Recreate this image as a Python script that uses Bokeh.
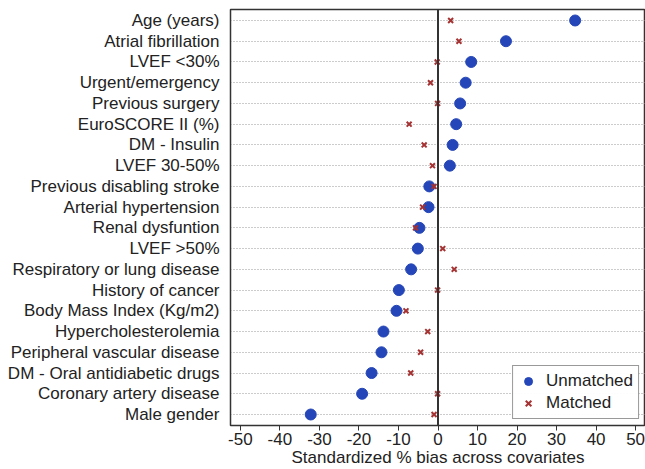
from bokeh.plotting import figure
from bokeh.models import Range1d, FixedTicker, Span, Legend, LegendItem
from bokeh.embed import file_html
from bokeh.resources import INLINE

covariates = [
    "Age (years)", "Atrial fibrillation", "LVEF <30%", "Urgent/emergency",
    "Previous surgery", "EuroSCORE II (%)", "DM - Insulin", "LVEF 30-50%",
    "Previous disabling stroke", "Arterial hypertension", "Renal dysfuntion",
    "LVEF >50%", "Respiratory or lung disease", "History of cancer",
    "Body Mass Index (Kg/m2)", "Hypercholesterolemia", "Peripheral vascular disease",
    "DM - Oral antidiabetic drugs", "Coronary artery disease", "Male gender",
]
unmatched = [34.7, 17.2, 8.4, 7.0, 5.6, 4.6, 3.7, 3.0, -2.2, -2.4, -4.7, -5.1,
             -6.8, -9.9, -10.5, -13.8, -14.3, -16.8, -19.2, -32.2]
matched = [3.2, 5.3, -0.2, -1.9, -0.1, -7.3, -3.5, -1.4, -1.0, -3.9, -5.7, 1.2,
           4.1, -0.1, -8.1, -2.6, -4.4, -6.9, -0.1, -1.0]
x_ticks = [-50, -40, -30, -20, -10, 0, 10, 20, 30, 40, 50]

n = len(covariates)
ypos = [n - 1 - i for i in range(n)]

FONT = "Liberation Sans"

p = figure(width=645, height=469, output_backend="svg", toolbar_location=None,
           x_range=Range1d(-52.5, 52.5), y_range=Range1d(-0.53, n - 1 + 0.53),
           min_border_left=230, min_border_right=0, min_border_top=9, min_border_bottom=0)

p.outline_line_color = "#333333"
p.outline_line_width = 1.5

# x axis
p.xaxis.ticker = FixedTicker(ticks=x_ticks)
p.xaxis.major_label_overrides = {t: str(t) for t in x_ticks}
p.xaxis.axis_label = "Standardized % bias across covariates"
p.xaxis.axis_label_text_font = FONT
p.xaxis.axis_label_text_font_style = "normal"
p.xaxis.axis_label_text_font_size = "17px"
p.xaxis.axis_label_text_color = "#222222"
p.xaxis.axis_label_standoff = 0
p.xaxis.major_label_text_font = FONT
p.xaxis.major_label_text_font_size = "17px"
p.xaxis.major_label_text_color = "#222222"
p.xaxis.axis_line_color = "#333333"
p.xaxis.major_tick_line_color = "#333333"
p.xaxis.major_tick_out = 5
p.xaxis.major_tick_in = 0
p.xaxis.minor_tick_line_color = None
p.xaxis.major_label_standoff = 2

# y axis
p.yaxis.ticker = FixedTicker(ticks=ypos)
p.yaxis.major_label_overrides = {y: c for y, c in zip(ypos, covariates)}
p.yaxis.major_label_text_font = FONT
p.yaxis.major_label_text_font_size = "17px"
p.yaxis.major_label_text_color = "#222222"
p.yaxis.axis_line_color = "#333333"
p.yaxis.major_tick_line_color = None
p.yaxis.minor_tick_line_color = None
p.yaxis.major_label_standoff = 5

# grids
p.xgrid.grid_line_color = None
p.ygrid.ticker = FixedTicker(ticks=ypos)
p.ygrid.grid_line_color = "#999999"
p.ygrid.grid_line_dash = "1 2"
p.ygrid.grid_line_width = 1

p.add_layout(Span(location=0, dimension="height", line_color="#333333", line_width=2))

r1 = p.scatter(unmatched, ypos, size=11, marker="circle", fill_color="#2546b8",
               line_color="#2546b8")
r2 = p.scatter(matched, ypos, size=7, marker="x", line_color="#a53333", line_width=2)

legend = Legend(items=[LegendItem(label="Unmatched", renderers=[r1]),
                       LegendItem(label="Matched", renderers=[r2])],
                location="bottom_right")
legend.label_text_font = FONT
legend.label_text_font_size = "17px"
legend.label_text_color = "#222222"
legend.border_line_color = "#333333"
legend.border_line_width = 1.5
legend.margin = 6
legend.padding = 5
legend.spacing = 2
legend.label_standoff = 8
p.add_layout(legend)

open("out.html", "w").write(file_html(p, INLINE))
